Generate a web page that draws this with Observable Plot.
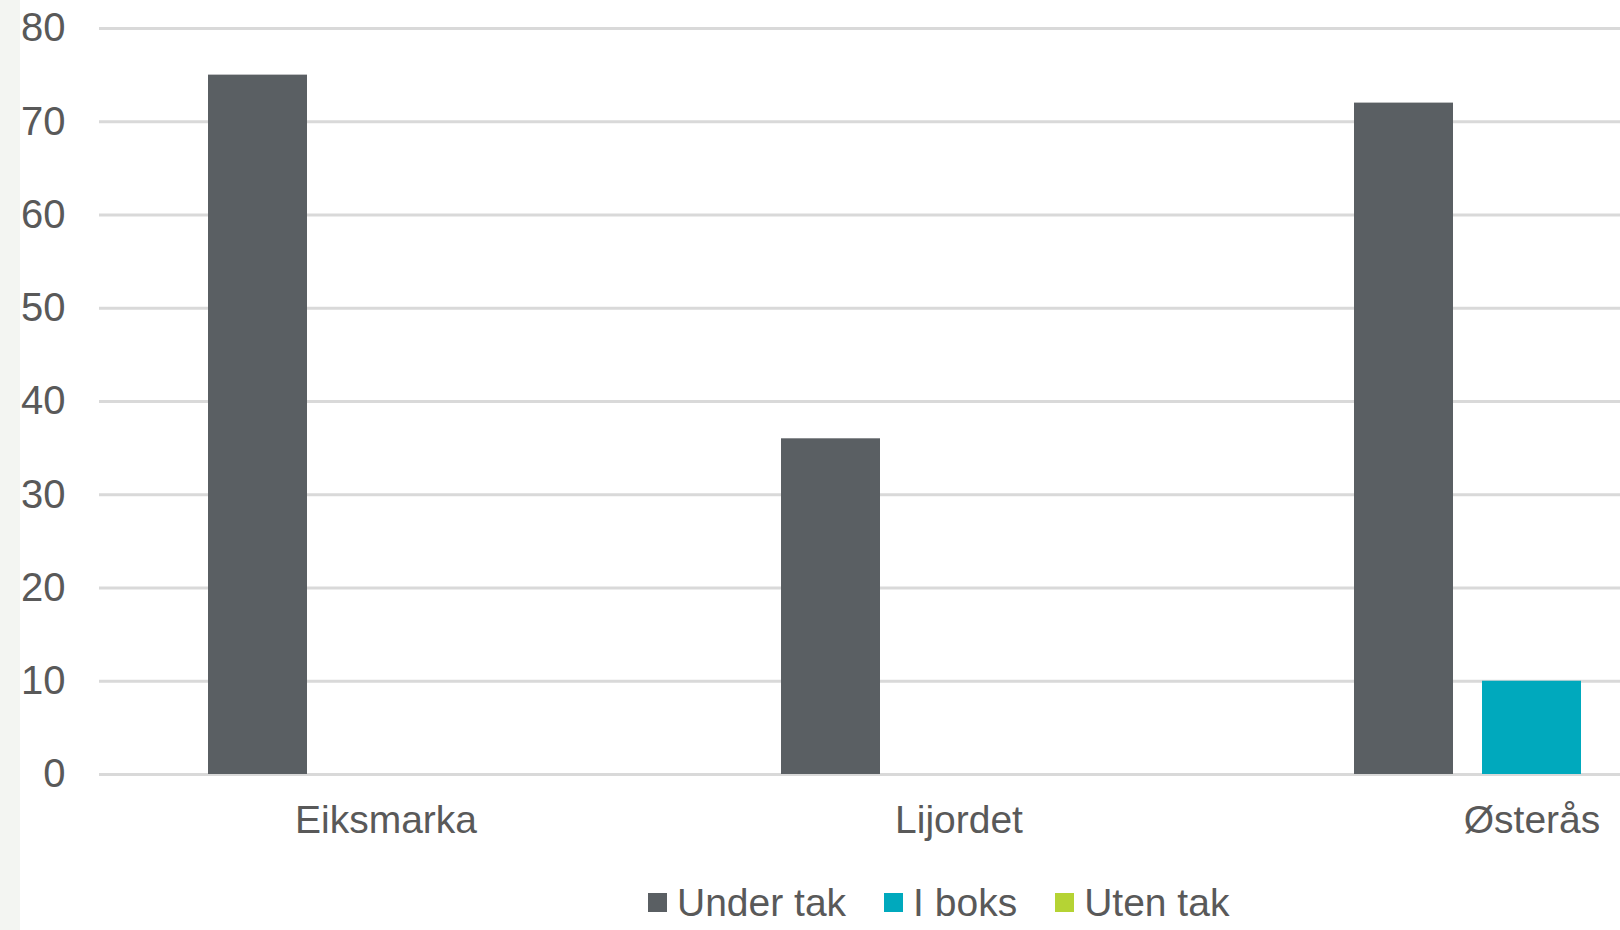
<!DOCTYPE html>
<html>
<head>
<meta charset="utf-8">
<script src="https://cdn.jsdelivr.net/npm/d3@7"></script>
<script src="https://cdn.jsdelivr.net/npm/@observablehq/plot@0.6"></script>
<style>
  html, body { margin: 0; padding: 0; background: #ffffff; overflow: hidden; width: 1620px; height: 930px; }
  #wrap { position: relative; width: 1620px; height: 930px; overflow: hidden; background: #ffffff;
          font-family: "Liberation Sans", Arial, sans-serif; color: #595959; }
  #strip { position: absolute; left: 0; top: 0; width: 20px; height: 930px; background: #f3f5f2; }
  #chart { position: absolute; left: 0; top: 0; }
  #chart svg { max-width: none !important; display: block; }
  #legend { position: absolute; left: 648px; top: 883px; height: 39px; display: flex; align-items: center;
            font-size: 39px; line-height: 39px; white-space: nowrap; }
  .item { display: flex; align-items: center; margin-right: 38px; }
  .sw { width: 19px; height: 19px; margin-right: 10px; }
</style>
</head>
<body>
<div id="wrap">
  <div id="strip"></div>
  <div id="chart"></div>
  <div id="legend"></div>
</div>
<script>
const categories = ["Eiksmarka", "Lijordet", "Østerås"];
const series = ["Under tak", "I boks", "Uten tak"];
const underTak = [75, 36, 72];
const iBoks = [0, 0, 10];
const utenTak = [0, 0, 0];
const yTicks = [0, 10, 20, 30, 40, 50, 60, 70, 80];
const colors = ["#5a5f63", "#00a9bd", "#b5d334"];

const seriesValues = [underTak, iBoks, utenTak];
const data = categories.flatMap((c, i) =>
  series.map((s, j) => ({ category: c, series: s, value: seriesValues[j][i] }))
);

const chart = Plot.plot({
  width: 1818,
  height: 860,
  marginLeft: 98,
  marginRight: 0,
  marginTop: 28,
  marginBottom: 86,
  style: {
    fontFamily: '"Liberation Sans", Arial, sans-serif',
    fontSize: "39px",
    color: "#595959",
    background: "transparent",
    maxWidth: "none",
    overflow: "visible"
  },
  fx: { domain: categories, padding: 0, label: null },
  x: { domain: series, paddingInner: 0.226, paddingOuter: 0.851, axis: null },
  y: { domain: [0, 80], label: null },
  color: { domain: series, range: colors },
  marks: [
    Plot.gridY(yTicks, { stroke: "#d9d9d9", strokeWidth: 3, strokeOpacity: 1 }),
    Plot.barY(data.filter(d => d.value > 0), { fx: "category", x: "series", y: "value", fill: "series" }),
    Plot.axisY(yTicks, { tickSize: 0, tickPadding: 34, label: null, fill: "#595959", fontSize: 40 }),
    Plot.axisFx({ anchor: "bottom", tickSize: 0, tickPadding: 31, label: null, fill: "#595959", fontSize: 39 })
  ]
});
document.getElementById("chart").appendChild(chart);

const legend = document.getElementById("legend");
series.forEach((s, i) => {
  const item = document.createElement("div");
  item.className = "item";
  const sw = document.createElement("div");
  sw.className = "sw";
  sw.style.background = colors[i];
  const t = document.createElement("span");
  t.textContent = s;
  item.appendChild(sw);
  item.appendChild(t);
  legend.appendChild(item);
});
</script>
</body>
</html>
